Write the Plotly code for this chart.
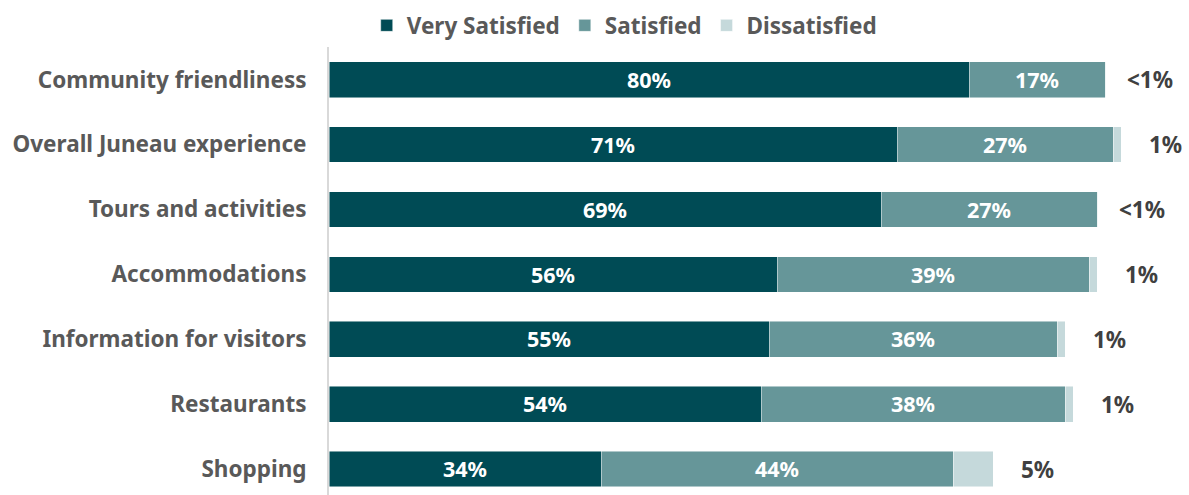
import plotly.graph_objects as go

categories = [
    "Community friendliness",
    "Overall Juneau experience",
    "Tours and activities",
    "Accommodations",
    "Information for visitors",
    "Restaurants",
    "Shopping",
]
very_satisfied = [80, 71, 69, 56, 55, 54, 34]
satisfied = [17, 27, 27, 39, 36, 38, 44]
dissatisfied = [0.1, 1, 0.1, 1, 1, 1, 5]
dissatisfied_labels = ["<1%", "1%", "<1%", "1%", "1%", "1%", "5%"]

colors = {
    "Very Satisfied": "#004B55",
    "Satisfied": "#669699",
    "Dissatisfied": "#C5D9DB",
}

FONT = "Noto Sans"
SIZE = 22.5

fig = go.Figure()

for name, vals, show_text in [
    ("Very Satisfied", very_satisfied, True),
    ("Satisfied", satisfied, True),
    ("Dissatisfied", dissatisfied, False),
]:
    fig.add_trace(go.Bar(
        name=name,
        y=categories,
        x=vals,
        orientation="h",
        marker=dict(color=colors[name], line=dict(color="rgba(255,255,255,0.6)", width=0.8)),
        text=[f"{v:g}%" for v in vals] if show_text else None,
        textposition="inside" if show_text else "none",
        insidetextanchor="middle",
        textfont=dict(family=FONT, size=SIZE, color="white", weight="bold"),
        hoverinfo="skip",
    ))

# Dissatisfied shares are labelled just past the end of each bar
totals = [a + b + c for a, b, c in zip(very_satisfied, satisfied, dissatisfied)]
for cat, tot, lab in zip(categories, totals, dissatisfied_labels):
    fig.add_annotation(
        x=tot, y=cat, text=lab, showarrow=False,
        xanchor="center", xshift=44,
        font=dict(family=FONT, size=SIZE, color="#404040", weight="bold"),
    )

fig.update_layout(
    barmode="stack",
    bargap=0.45,
    width=1189,
    height=495,
    margin=dict(l=329, r=0, t=46, b=0),
    plot_bgcolor="white",
    paper_bgcolor="white",
    font=dict(family=FONT, color="#595959"),
    legend=dict(
        orientation="h",
        xref="container", yref="container",
        x=0.525, xanchor="center",
        y=0.948, yanchor="middle",
        font=dict(family=FONT, size=SIZE, color="#595959", weight="bold"),
        traceorder="normal",
        itemwidth=30,
    ),
    xaxis=dict(
        range=[0, 107.5],
        showgrid=False, zeroline=False, showticklabels=False,
        showline=False, fixedrange=True,
    ),
    yaxis=dict(
        range=[6.4, -0.5],
        showgrid=False, zeroline=False,
        showline=True, linecolor="#D9D9D9", linewidth=2,
        ticks="", ticklabelstandoff=16,
        tickfont=dict(family=FONT, size=SIZE, color="#595959", weight="bold"),
    ),
)

fig.write_html("out.html")
